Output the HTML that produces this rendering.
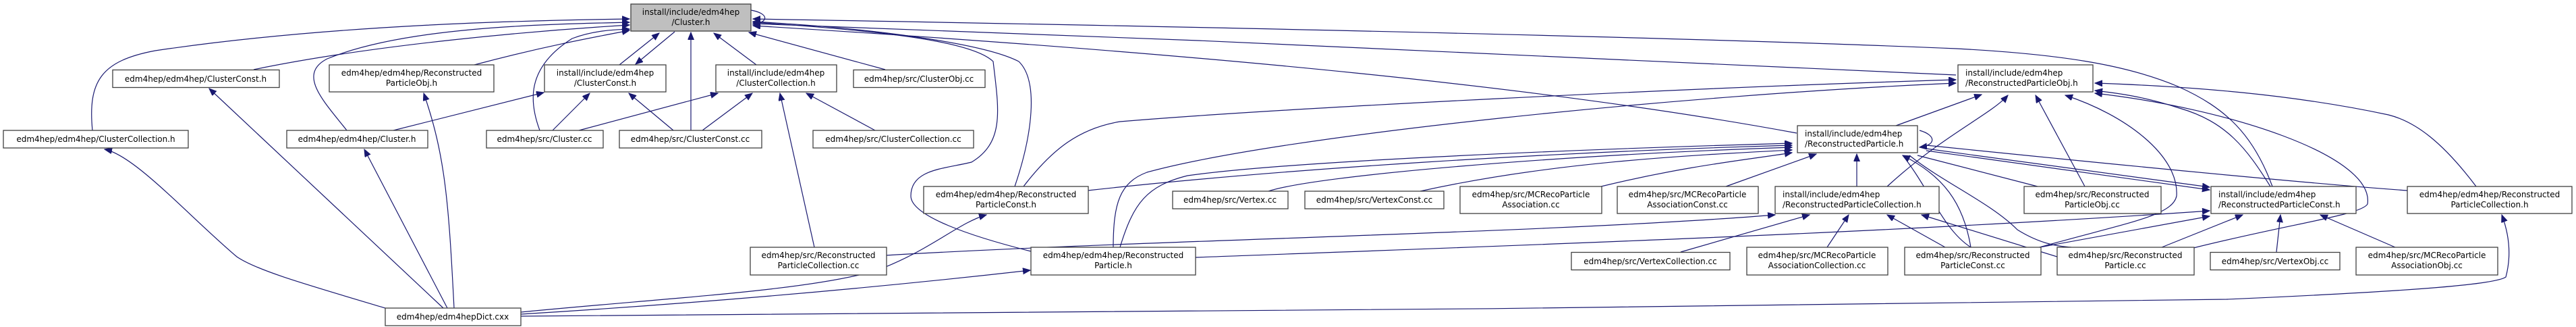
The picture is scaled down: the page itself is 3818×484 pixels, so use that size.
<!DOCTYPE html>
<html><head><meta charset="utf-8"><style>
html,body{margin:0;padding:0;background:#fff;width:3818px;height:484px;overflow:hidden}
svg{display:block}
text{font-family:"DejaVu Sans","Liberation Sans",sans-serif;font-size:12px;fill:#000}
.n{fill:#fff;stroke:#404040;stroke-width:1.3}
.e{fill:none;stroke:#191970;stroke-width:1.2}
</style></head><body>
<svg width="3818" height="484" viewBox="0 0 3818 484" xmlns="http://www.w3.org/2000/svg">
<defs>
<marker id="a" markerUnits="userSpaceOnUse" markerWidth="12" markerHeight="10" refX="11" refY="4.5" orient="auto">
<path d="M0,0 L11,4.5 L0,9 Z" fill="#191970" stroke="#191970"/>
</marker>
</defs>
<g class="e" marker-end="url(#a)">
<!-- into Cluster.h -->
<path d="M137,193 C130,120 150,90 230,75 C500,35 800,30 933,28"/>
<path d="M376,103 C560,65 800,45 933,37"/>
<path d="M514,193 C480,150 440,110 485,87 C600,40 800,36 933,33"/>
<path d="M703,96 C800,70 880,55 933,45"/>
<path d="M800,193 C784,150 780,100 848,57 C880,45 910,44 933,43"/>
<path d="M918,96 L977,49"/>
<path d="M1000,47 L942,95"/>
<path d="M1024,193 L1024,48"/>
<path d="M1121,96 L1058,49"/>
<path d="M1312,103 L1110,48"/>
<path d="M1113,15 C1140,20 1140,33 1116,36"/>
<path d="M1528,372 C1440,350 1350,320 1350,290 C1350,250 1400,250 1440,240 C1490,210 1480,160 1472,91 C1440,60 1300,45 1116,33"/>
<path d="M1504,276 C1530,200 1540,120 1510,91 C1460,65 1300,42 1116,32"/>
<path d="M3368,276 C3340,200 3300,160 3228,128 C3150,95 3050,80 2900,72 C2500,55 1800,40 1116,28"/>
<path d="M2899,111 C2500,90 1700,55 1116,35"/>
<path d="M2663,197 C2300,130 1800,80 1116,38"/>
<!-- Dict -->
<path d="M571,456 C450,420 380,400 351,380 C280,320 200,230 155,221"/>
<path d="M657,456 L310,131"/>
<path d="M663,456 L540,221"/>
<path d="M673,456 C665,300 660,230 628,138"/>
<path d="M772,462 C1000,440 1200,430 1300,400 C1380,370 1420,330 1462,318"/>
<path d="M772,465 C1100,445 1350,420 1527,400"/>
<path d="M772,468 C1500,465 2500,455 3300,443 C3600,430 3700,420 3714,410 C3722,380 3720,350 3708,318"/>
<!-- install ClusterConst.h -->
<path d="M583,193 L806,137"/>
<path d="M819,193 L874,138"/>
<path d="M998,193 L932,138"/>
<!-- install ClusterCollection.h -->
<path d="M858,193 L1064,138"/>
<path d="M1041,193 L1115,138"/>
<path d="M1297,193 L1195,138"/>
<path d="M1207,366 L1156,138"/>
<!-- into RP.h install -->
<path d="M1612,282 C1900,250 2300,225 2656,215"/>
<path d="M1660,366 C1680,300 1700,275 1760,260 C1900,240 2300,222 2656,212"/>
<path d="M1880,283 C1950,260 2300,230 2656,218"/>
<path d="M2105,283 C2300,240 2500,230 2656,222"/>
<path d="M2373,276 C2500,245 2600,235 2656,226"/>
<path d="M2558,276 L2692,228"/>
<path d="M2752,276 L2752,228"/>
<path d="M2921,366 C2910,300 2880,260 2820,230"/>
<path d="M2845,193 C2870,200 2870,215 2845,218"/>
<!-- into RPObj.h install -->
<path d="M1517,276 C1560,220 1600,190 1660,180 C1900,160 2500,130 2899,118"/>
<path d="M1650,366 C1650,300 1660,270 1700,255 C1900,200 2500,140 2899,123"/>
<path d="M2810,186 L2937,140"/>
<path d="M2797,276 C2880,200 2950,170 2976,141"/>
<path d="M3090,276 L3017,141"/>
<path d="M3023,366 C3150,330 3220,320 3226,290 C3230,230 3150,170 3061,141"/>
<path d="M3365,276 C3330,220 3300,180 3230,160 C3170,140 3120,136 3105,134"/>
<path d="M3251,367 C3400,330 3500,318 3509,302 C3520,230 3300,160 3105,138"/>
<path d="M3670,276 C3620,210 3580,180 3540,170 C3400,140 3250,128 3105,123"/>
<!-- into install RPConst.h -->
<path d="M2855,220 C3000,240 3150,260 3275,277"/>
<path d="M2855,223 C3000,243 3150,263 3275,281"/>
<path d="M3204,366 L3324,318"/>
<path d="M3374,373 L3380,318"/>
<path d="M3550,366 L3439,318"/>
<path d="M3023,366 L3275,320"/>
<path d="M1772,381 C2200,365 2800,345 3275,312"/>
<!-- into install RPCollection.h -->
<path d="M1312,378 C1700,355 2300,345 2631,318"/>
<path d="M2491,373 L2682,318"/>
<path d="M2708,366 L2740,318"/>
<path d="M2883,366 L2797,318"/>
<path d="M3049,380 L2848,318"/>
</g>
<g class="e">
<!-- R to RPCollection.h (edm4hep) , RPObj.cc, src/RP.cc -->
<path d="M2855,215 C3100,240 3400,270 3568,282"/>
<path d="M2842,230 L3020,276"/>
<path d="M2830,230 C2880,270 2950,300 2990,340 C3030,365 3060,365 3070,366"/>
<path d="M2820,230 C2860,280 2880,340 2921,366"/>
</g>
<!-- nodes -->
<g>
<rect x="935" y="6" width="178" height="40" fill="#bfbfbf" stroke="#404040" stroke-width="1.3"/>
<text x="1024" y="22" text-anchor="middle">install/include/edm4hep</text>
<text x="1024" y="37" text-anchor="middle">/Cluster.h</text>

<rect class="n" x="167" y="103.5" width="247" height="26"/>
<text x="290" y="121" text-anchor="middle">edm4hep/edm4hep/ClusterConst.h</text>

<rect class="n" x="488" y="96" width="244" height="40"/>
<text x="610" y="112" text-anchor="middle">edm4hep/edm4hep/Reconstructed</text>
<text x="610" y="127" text-anchor="middle">ParticleObj.h</text>

<rect class="n" x="807" y="96" width="180" height="40"/>
<text x="897" y="112" text-anchor="middle">install/include/edm4hep</text>
<text x="897" y="127" text-anchor="middle">/ClusterConst.h</text>

<rect class="n" x="5" y="193" width="274" height="26"/>
<text x="142" y="210" text-anchor="middle">edm4hep/edm4hep/ClusterCollection.h</text>

<rect class="n" x="425" y="193" width="209" height="26"/>
<text x="529" y="210" text-anchor="middle">edm4hep/edm4hep/Cluster.h</text>

<rect class="n" x="721" y="193" width="173" height="26"/>
<text x="807" y="210" text-anchor="middle">edm4hep/src/Cluster.cc</text>

<rect class="n" x="918" y="193" width="211" height="26"/>
<text x="1023" y="210" text-anchor="middle">edm4hep/src/ClusterConst.cc</text>

<rect class="n" x="571" y="456" width="201" height="26"/>
<text x="671" y="473" text-anchor="middle">edm4hep/edm4hepDict.cxx</text>

<rect class="n" x="1061" y="96" width="179" height="40"/>
<text x="1150" y="112" text-anchor="middle">install/include/edm4hep</text>
<text x="1150" y="127" text-anchor="middle">/ClusterCollection.h</text>

<rect class="n" x="1265" y="103.5" width="195" height="26"/>
<text x="1362" y="121" text-anchor="middle">edm4hep/src/ClusterObj.cc</text>

<rect class="n" x="1205" y="193" width="238" height="26"/>
<text x="1324" y="210" text-anchor="middle">edm4hep/src/ClusterCollection.cc</text>

<rect class="n" x="1369" y="276" width="244" height="40"/>
<text x="1491" y="292" text-anchor="middle">edm4hep/edm4hep/Reconstructed</text>
<text x="1491" y="307" text-anchor="middle">ParticleConst.h</text>

<rect class="n" x="1112" y="366" width="202" height="41"/>
<text x="1213" y="382" text-anchor="middle">edm4hep/src/Reconstructed</text>
<text x="1213" y="397" text-anchor="middle">ParticleCollection.cc</text>

<rect class="n" x="1528" y="366" width="244" height="41"/>
<text x="1650" y="382" text-anchor="middle">edm4hep/edm4hep/Reconstructed</text>
<text x="1650" y="397" text-anchor="middle">Particle.h</text>

<rect class="n" x="1738" y="283" width="171" height="26"/>
<text x="1823" y="300" text-anchor="middle">edm4hep/src/Vertex.cc</text>

<rect class="n" x="1934" y="283" width="206" height="26"/>
<text x="2037" y="300" text-anchor="middle">edm4hep/src/VertexConst.cc</text>

<rect class="n" x="2164" y="276" width="210" height="40"/>
<text x="2269" y="292" text-anchor="middle">edm4hep/src/MCRecoParticle</text>
<text x="2269" y="307" text-anchor="middle">Association.cc</text>

<rect class="n" x="2397" y="276" width="209" height="40"/>
<text x="2501" y="292" text-anchor="middle">edm4hep/src/MCRecoParticle</text>
<text x="2501" y="307" text-anchor="middle">AssociationConst.cc</text>

<rect class="n" x="2631" y="276" width="243" height="40"/>
<text x="2642" y="292">install/include/edm4hep</text>
<text x="2642" y="307">/ReconstructedParticleCollection.h</text>

<rect class="n" x="2664" y="186" width="178" height="40"/>
<text x="2675" y="202">install/include/edm4hep</text>
<text x="2675" y="217">/ReconstructedParticle.h</text>

<rect class="n" x="2902" y="96" width="200" height="40"/>
<text x="2913" y="112">install/include/edm4hep</text>
<text x="2913" y="127">/ReconstructedParticleObj.h</text>

<rect class="n" x="2329" y="373.5" width="235" height="26"/>
<text x="2446" y="391" text-anchor="middle">edm4hep/src/VertexCollection.cc</text>

<rect class="n" x="2589" y="366" width="209" height="41"/>
<text x="2693" y="382" text-anchor="middle">edm4hep/src/MCRecoParticle</text>
<text x="2693" y="397" text-anchor="middle">AssociationCollection.cc</text>

<rect class="n" x="2823" y="366" width="202" height="41"/>
<text x="2924" y="382" text-anchor="middle">edm4hep/src/Reconstructed</text>
<text x="2924" y="397" text-anchor="middle">ParticleConst.cc</text>

<rect class="n" x="3000" y="276" width="203" height="40"/>
<text x="3101" y="292" text-anchor="middle">edm4hep/src/Reconstructed</text>
<text x="3101" y="307" text-anchor="middle">ParticleObj.cc</text>

<rect class="n" x="3277" y="276" width="215" height="40"/>
<text x="3288" y="292">install/include/edm4hep</text>
<text x="3288" y="307">/ReconstructedParticleConst.h</text>

<rect class="n" x="3568" y="276" width="244" height="40"/>
<text x="3690" y="292" text-anchor="middle">edm4hep/edm4hep/Reconstructed</text>
<text x="3690" y="307" text-anchor="middle">ParticleCollection.h</text>

<rect class="n" x="3049" y="366" width="203" height="41"/>
<text x="3150" y="382" text-anchor="middle">edm4hep/src/Reconstructed</text>
<text x="3150" y="397" text-anchor="middle">Particle.cc</text>

<rect class="n" x="3276" y="373.5" width="192" height="26"/>
<text x="3372" y="391" text-anchor="middle">edm4hep/src/VertexObj.cc</text>

<rect class="n" x="3492" y="366" width="210" height="41"/>
<text x="3597" y="382" text-anchor="middle">edm4hep/src/MCRecoParticle</text>
<text x="3597" y="397" text-anchor="middle">AssociationObj.cc</text>
</g>
</svg>
</body></html>
